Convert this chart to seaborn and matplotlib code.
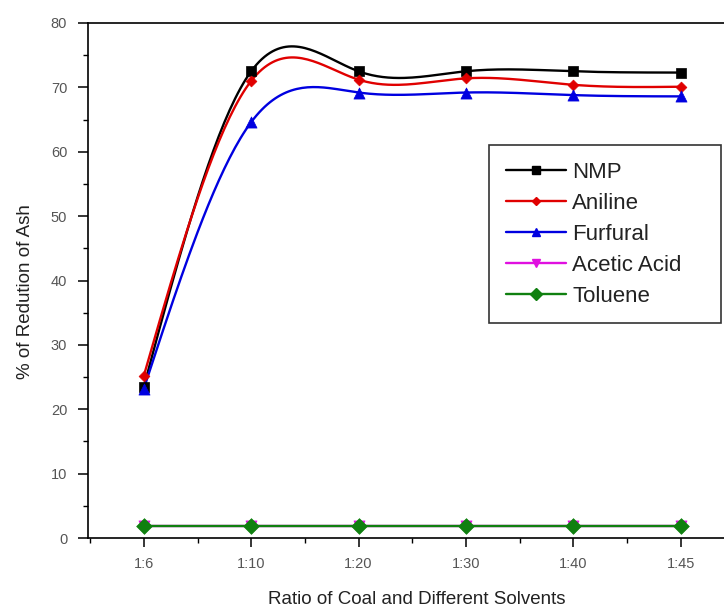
"""
% ash reduction vs coal:solvent ratio for five solvents (Origin-style smoothed lines).
"""

import matplotlib
matplotlib.use("Agg")
import matplotlib.pyplot as plt
from matplotlib.lines import Line2D
from matplotlib.ticker import MultipleLocator
import numpy as np
import seaborn as sns


RATIOS = ["1:6", "1:10", "1:20", "1:30", "1:40", "1:45"]
NMP = [23.5, 72.5, 72.5, 72.5, 72.5, 72.3]
ANILINE = [25.2, 71.0, 71.2, 71.4, 70.4, 70.1]
FURFURAL = [23.2, 64.6, 69.2, 69.2, 68.8, 68.6]
ACETIC_ACID = [1.8, 1.8, 1.8, 1.8, 1.8, 1.8]
TOLUENE = [1.8, 1.8, 1.8, 1.8, 1.8, 1.8]

SERIES = [
    ("NMP", NMP, "black", "s", 7),
    ("Aniline", ANILINE, "#e00000", "D", 5.5),
    ("Furfural", FURFURAL, "#0000e0", "^", 8),
    ("Acetic Acid", ACETIC_ACID, "#e010e0", "v", 8),
    ("Toluene", TOLUENE, "#108010", "D", 8),
]


def _natural_spline(y, n_per_seg=40):
    """Natural cubic spline through equally spaced points (x = 0..n-1), for drawing only."""
    y = np.asarray(y, dtype=float)
    n = len(y)
    A = np.zeros((n, n))
    rhs = np.zeros(n)
    A[0, 0] = A[-1, -1] = 1.0
    for i in range(1, n - 1):
        A[i, i - 1], A[i, i], A[i, i + 1] = 1.0, 4.0, 1.0
        rhs[i] = 6.0 * (y[i + 1] - 2 * y[i] + y[i - 1])
    m = np.linalg.solve(A, rhs)
    xs, ys = [], []
    for i in range(n - 1):
        t = np.linspace(0, 1, n_per_seg, endpoint=(i == n - 2))
        s = ((1 - t) * y[i] + t * y[i + 1]
             + ((1 - t) ** 3 - (1 - t)) * m[i] / 6
             + (t ** 3 - t) * m[i + 1] / 6)
        xs.append(i + t)
        ys.append(s)
    return np.concatenate(xs), np.concatenate(ys)


def main() -> None:
    sns.set_style("ticks")
    plt.rcParams["font.family"] = ["Liberation Sans", "DejaVu Sans"]

    fig = plt.figure(figsize=(7.24, 6.08), dpi=100)
    ax = fig.add_axes([88 / 724, 70 / 608, 657 / 724, 515 / 608])

    handles = []
    for name, vals, color, marker, ms in SERIES:
        xs, ys = _natural_spline(vals)
        sns.lineplot(x=xs, y=ys, color=color, linewidth=1.7, ax=ax, sort=False)
        sns.scatterplot(x=np.arange(len(vals)), y=vals, color=color, marker=marker,
                        s=ms ** 2, edgecolor=color, linewidth=0.5, ax=ax, zorder=5)
        handles.append(Line2D([], [], color=color, marker=marker, markersize=ms * 0.8,
                              linewidth=1.7, label=name))

    ax.set_xlim(-0.52, 5.6)
    ax.set_ylim(0, 80)
    ax.set_xticks(range(len(RATIOS)))
    ax.set_xticklabels(RATIOS)
    ax.xaxis.set_minor_locator(MultipleLocator(0.5))
    ax.yaxis.set_major_locator(MultipleLocator(10))
    ax.yaxis.set_minor_locator(MultipleLocator(5))
    ax.tick_params(which="both", direction="out", color="black", labelcolor="#555555")
    ax.tick_params(axis="x", which="major", length=6.5, width=1.1, labelsize=10.5, pad=7)
    ax.tick_params(axis="y", which="major", length=7, width=1.1, labelsize=10.5, pad=8)
    ax.tick_params(which="minor", length=3.8, width=1.0)
    for side in ["left", "bottom", "top", "right"]:
        ax.spines[side].set_visible(True)
        ax.spines[side].set_linewidth(1.2)
        ax.spines[side].set_color("black")

    ax.set_xlabel("Ratio of Coal and Different Solvents", fontsize=13.5,
                  color="#222222", va="center")
    ax.xaxis.set_label_coords(0.5, (538 - 599) / 515)
    ax.set_ylabel("% of Redution of Ash", fontsize=13.5, color="#222222", va="center")
    ax.yaxis.set_label_coords((25 - 88) / 657, (538 - 292) / 515)

    # legend box: x 489..721, top at 145 px (figure pixels)
    leg = ax.legend(handles=handles, loc="upper left", mode="expand",
                    bbox_to_anchor=(489 / 724, 1 - 145 / 608, 232 / 724, 0),
                    bbox_transform=fig.transFigure, fontsize=16, frameon=True,
                    fancybox=False, edgecolor="black", handlelength=2.7,
                    handletextpad=0.3, labelspacing=0.45, borderpad=0.75,
                    borderaxespad=0)
    leg.get_frame().set_linewidth(1.2)
    for txt in leg.get_texts():
        txt.set_color("#222222")

    fig.savefig("out.png", dpi=100)
    plt.close(fig)


if __name__ == "__main__":
    main()
